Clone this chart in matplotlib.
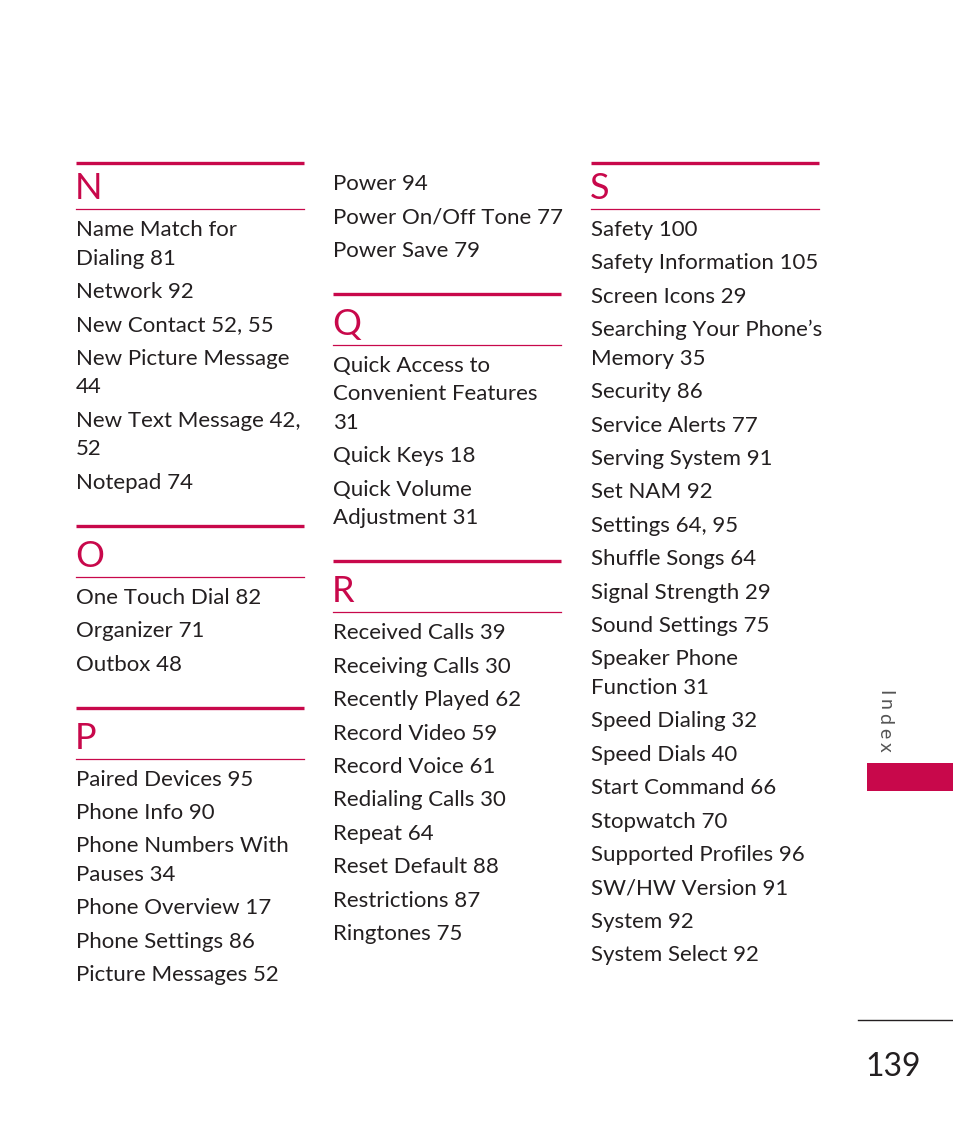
import matplotlib.pyplot as plt
from matplotlib.patches import Rectangle

# index content, per column: (header letter or None, entries)
col1 = [
    ("N", ["Name Match for\nDialing 81", "Network 92", "New Contact 52, 55",
           "New Picture Message\n44", "New Text Message 42,\n52", "Notepad 74"]),
    ("O", ["One Touch Dial 82", "Organizer 71", "Outbox 48"]),
    ("P", ["Paired Devices 95", "Phone Info 90", "Phone Numbers With\nPauses 34",
           "Phone Overview 17", "Phone Settings 86", "Picture Messages 52"]),
]
col2 = [
    (None, ["Power 94", "Power On/Off Tone 77", "Power Save 79"]),
    ("Q", ["Quick Access to\nConvenient Features\n31", "Quick Keys 18",
           "Quick Volume\nAdjustment 31"]),
    ("R", ["Received Calls 39", "Receiving Calls 30", "Recently Played 62",
           "Record Video 59", "Record Voice 61", "Redialing Calls 30", "Repeat 64",
           "Reset Default 88", "Restrictions 87", "Ringtones 75"]),
]
col3 = [
    ("S", ["Safety 100", "Safety Information 105", "Screen Icons 29",
           "Searching Your Phone\u2019s\nMemory 35", "Security 86", "Service Alerts 77",
           "Serving System 91", "Set NAM 92", "Settings 64, 95", "Shuffle Songs 64",
           "Signal Strength 29", "Sound Settings 75", "Speaker Phone\nFunction 31",
           "Speed Dialing 32", "Speed Dials 40", "Start Command 66", "Stopwatch 70",
           "Supported Profiles 96", "SW/HW Version 91", "System 92", "System Select 92"]),
]
page_number = "139"
tab_label = "Index"

RED = "#c8084b"
INK = "#231f20"
FONT = "Lato"

W, H = 954, 1145
fig = plt.figure(figsize=(W / 100, H / 100), dpi=100)
ax = fig.add_axes([0, 0, 1, 1])
ax.set_xlim(0, W)
ax.set_ylim(H, 0)
ax.axis("off")

col_w = 228
entry_step = 33.4
wrap_step = 28.6


def draw_column(x, sections, y_start):
    last = None  # center of the previous text line
    y = y_start
    for head, entries in sections:
        if head is not None:
            first = last is None
            top = y_start if first else last + 45
            gap = 46 if first else 51
            ax.plot([x, x + col_w], [top, top], color=RED, lw=2.4, solid_capstyle="butt")
            ax.text(x - 1, top + gap - 10, head, color=RED, fontsize=26, family=FONT,
                    va="baseline", ha="left")
            ax.plot([x, x + col_w], [top + gap, top + gap], color=RED, lw=0.9)
            y = top + gap + 19
        for e in entries:
            lines = e.split("\n")
            for i, ln in enumerate(lines):
                ax.text(x, y + 8, ln, color=INK, fontsize=16, family=FONT,
                        va="baseline", ha="left")
                last = y
                if i < len(lines) - 1:
                    y += wrap_step
            y += entry_step


draw_column(76, col1, 163)
draw_column(333, col2, 182)
draw_column(591, col3, 163)

# side tab
ax.add_patch(Rectangle((867, 763), W - 867, 28, color=RED, lw=0))
fig.canvas.draw()
renderer = fig.canvas.get_renderer()
ty = 690
for ch in tab_label:
    t = ax.text(885, ty, ch, color="#555555", fontsize=14, family=FONT,
                rotation=270, ha="center", va="top")
    ext = t.get_window_extent(renderer)
    ty += ext.height + 3.5

# page number
ax.plot([858, W], [1020, 1020], color=INK, lw=1.0)
ax.text(865, 1076, page_number, color=INK, fontsize=23, family=FONT,
        va="baseline", ha="left")

fig.savefig("out.png", dpi=100)
